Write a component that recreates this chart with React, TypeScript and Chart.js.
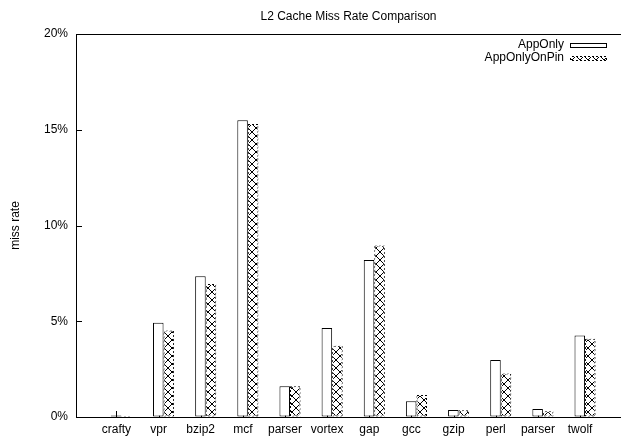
import React, { useEffect, useRef } from 'react';
import { Chart, registerables } from 'chart.js';

Chart.register(...registerables);

const categories = ['crafty', 'vpr', 'bzip2', 'mcf', 'parser', 'vortex', 'gap', 'gcc', 'gzip', 'perl', 'parser', 'twolf'];
const appOnly = [0.08, 4.92, 7.35, 15.5, 1.6, 4.65, 8.2, 0.82, 0.37, 2.97, 0.42, 4.25];
const appOnlyOnPin = [0.05, 4.52, 6.95, 15.3, 1.6, 3.72, 8.95, 1.15, 0.35, 2.27, 0.3, 4.08];
const seriesLabels = ['AppOnly', 'AppOnlyOnPin'];
const yTicks = [0, 5, 10, 15, 20];
const chartTitle = 'L2 Cache Miss Rate Comparison';
const yTitle = 'miss rate';

const FONT = '"Liberation Sans", Arial, Helvetica, sans-serif';

function makeHatch(): CanvasPattern | string {
  const c = document.createElement('canvas');
  c.width = 8;
  c.height = 8;
  const g = c.getContext('2d');
  if (!g) return '#888';
  g.fillStyle = '#fff';
  g.fillRect(0, 0, 8, 8);
  g.strokeStyle = '#000';
  g.lineWidth = 1;
  g.beginPath();
  g.moveTo(0, 0);
  g.lineTo(8, 8);
  g.moveTo(8, 0);
  g.lineTo(0, 8);
  g.stroke();
  return g.createPattern(c, 'repeat') || '#888';
}

function makeDash(): CanvasPattern | string {
  const c = document.createElement('canvas');
  c.width = 4;
  c.height = 4;
  const g = c.getContext('2d');
  if (!g) return '#000';
  g.fillStyle = '#fff';
  g.fillRect(0, 0, 4, 4);
  g.fillStyle = '#000';
  for (let x = 0; x < 4; x++) {
    for (let y = 0; y < 4; y++) {
      if ((x + y) % 4 < 2) g.fillRect(x, y, 1, 1);
    }
  }
  return g.createPattern(c, 'repeat') || '#000';
}

const innerTicks = {
  id: 'innerTicks',
  beforeDatasetsDraw(chart: any) {
    const { ctx, chartArea, scales } = chart;
    ctx.save();
    ctx.strokeStyle = '#000';
    ctx.lineWidth = 1;
    ctx.beginPath();
    yTicks.forEach((v) => {
      const y = Math.round(scales.y.getPixelForValue(v)) + 0.5;
      ctx.moveTo(chartArea.left, y);
      ctx.lineTo(chartArea.left + 6, y);
    });
    categories.forEach((_, i) => {
      const x = Math.round(scales.x.getPixelForValue(i) - 5) + 0.5;
      ctx.moveTo(x, chartArea.bottom);
      ctx.lineTo(x, chartArea.bottom - 6);
    });
    ctx.stroke();
    ctx.restore();
  },
};

const gpLegend = {
  id: 'gpLegend',
  afterDraw(chart: any) {
    const { ctx, chartArea } = chart;
    ctx.save();
    ctx.font = '12px ' + FONT;
    ctx.textAlign = 'right';
    ctx.textBaseline = 'middle';
    chart.data.datasets.forEach((ds: any, i: number) => {
      const y = chartArea.top + 10.5 + i * 13;
      ctx.fillStyle = '#000';
      ctx.fillText(ds.label, chartArea.right - 57, y);
      const bx = Math.round(chartArea.right - 51);
      const by = Math.round(y - 2);
      const bw = 37;
      const bh = 5;
      ctx.fillStyle = ds.borderColor;
      ctx.fillRect(bx, by, bw, bh);
      ctx.fillStyle = ds.backgroundColor;
      ctx.fillRect(bx + 1, by + 1, bw - 2, bh - 2);
    });
    ctx.restore();
  },
};

export default function App() {
  const ref = useRef<HTMLCanvasElement | null>(null);

  useEffect(() => {
    const canvas = ref.current;
    if (!canvas) return;
    Chart.defaults.font.family = FONT;
    Chart.defaults.color = '#000';
    const hatch = makeHatch();
    const dash = makeDash();

    const chart = new Chart(canvas, {
      type: 'bar',
      data: {
        datasets: [
          {
            label: seriesLabels[0],
            data: appOnly.map((v, i) => ({ x: i, y: v })),
            backgroundColor: '#fff',
            borderColor: '#000',
            borderWidth: 1,
            borderSkipped: false,
            categoryPercentage: 0.5,
            barPercentage: 1.0,
          },
          {
            label: seriesLabels[1],
            data: appOnlyOnPin.map((v, i) => ({ x: i, y: v })),
            backgroundColor: hatch as any,
            borderColor: dash as any,
            borderWidth: 1,
            borderSkipped: false,
            categoryPercentage: 0.5,
            barPercentage: 1.0,
          },
        ],
      } as any,
      options: {
        animation: false,
        responsive: false,
        layout: { padding: 0 },
        plugins: {
          legend: { display: false },
          tooltip: { enabled: false },
          title: {
            display: true,
            text: chartTitle,
            fullSize: false,
            color: '#000',
            font: { size: 12, weight: 'normal', family: FONT },
            padding: { top: 9, bottom: 10.6 },
          },
        },
        scales: {
          x: {
            type: 'linear',
            offset: false,
            bounds: 'data',
            min: -1.077,
            max: 11.853,
            grid: { display: false, drawTicks: false, offset: false },
            border: { display: true, color: '#000', width: 1 },
            ticks: {
              autoSkip: false,
              maxRotation: 0,
              minRotation: 0,
              padding: 5,
              labelOffset: -5,
              color: '#000',
              font: { size: 12, family: FONT },
              callback: (v: any) => categories[Number(v)] ?? '',
            },
            afterBuildTicks: (s: any) => {
              s.ticks = categories.map((_, i) => ({ value: i }));
            },
            afterFit: (s: any) => {
              s.height = 28;
            },
          },
          y: {
            min: 0,
            max: 20,
            grid: {
              drawTicks: false,
              color: (c: any) => (c.tick && c.tick.value === 20 ? '#000' : 'rgba(0,0,0,0)'),
            },
            border: { display: true, color: '#000', width: 1 },
            ticks: {
              padding: 8,
              color: '#000',
              font: { size: 12, family: FONT },
              callback: (v: any) => v + '%',
            },
            afterBuildTicks: (s: any) => {
              s.ticks = yTicks.map((v) => ({ value: v }));
            },
            title: {
              display: true,
              text: yTitle,
              color: '#000',
              font: { size: 12, family: FONT },
              padding: { top: 8, bottom: 0 },
            },
            afterFit: (s: any) => {
              s.width = 76;
            },
          },
        },
      } as any,
      plugins: [innerTicks, gpLegend],
    });

    return () => {
      chart.destroy();
    };
  }, []);

  return (
    <div style={{ position: 'absolute', left: 0, top: 0, width: 621, height: 445, background: '#fff' }}>
      <canvas ref={ref} width={621} height={445} style={{ display: 'block' }} />
    </div>
  );
}
